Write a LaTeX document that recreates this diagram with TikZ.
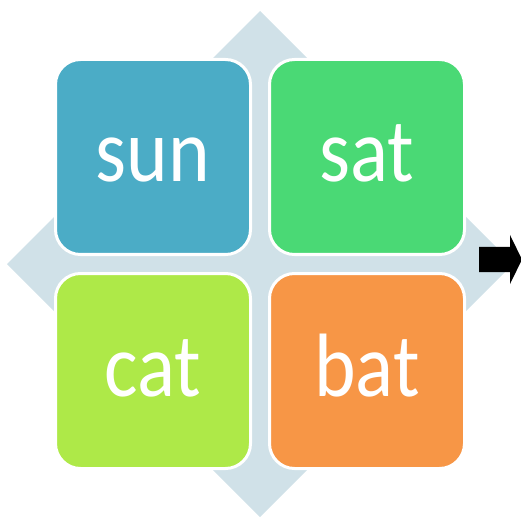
\documentclass[tikz,border=0pt]{standalone}
\usepackage{fontspec}
\setmainfont{Carlito}
\usetikzlibrary{positioning}

\definecolor{sunblue}{RGB}{75,172,198}
\definecolor{satgreen}{RGB}{74,217,117}
\definecolor{catlime}{RGB}{174,233,72}
\definecolor{batorange}{RGB}{247,150,70}
\definecolor{crossgray}{RGB}{208,225,232}

\newcommand{\word}[1]{\scalebox{0.88}[1]{#1}}

\begin{document}
\begin{tikzpicture}[x=1pt,y=-1pt,
  tile/.style={rectangle,rounded corners=25pt,draw=white,line width=3pt,
    minimum width=195pt,minimum height=195pt,inner sep=0pt,
    text=white,font=\fontsize{90}{90}\selectfont,text height=50pt,text depth=0pt},
  node distance=16pt]
\useasboundingbox (0,0) rectangle (521,518);
\coordinate (mid) at (260,264);
\fill[crossgray] (mid) ++(0,-253) -- ++(253,253) -- ++(-253,253) -- ++(-253,-253) -- cycle;
\node[tile,fill=sunblue] (sun) at (153,157) {\word{sun}};
\node[tile,fill=satgreen,right=of sun] (sat) {\word{sat}};
\node[tile,fill=catlime,below=of sun] (cat) {\word{cat}};
\node[tile,fill=batorange,below=of sat] (bat) {\word{bat}};
\fill[black] (479,247) -- (510,247) -- (510,235) -- (522,259.5) -- (510,284) -- (510,272) -- (479,272) -- cycle;
\end{tikzpicture}
\end{document}
